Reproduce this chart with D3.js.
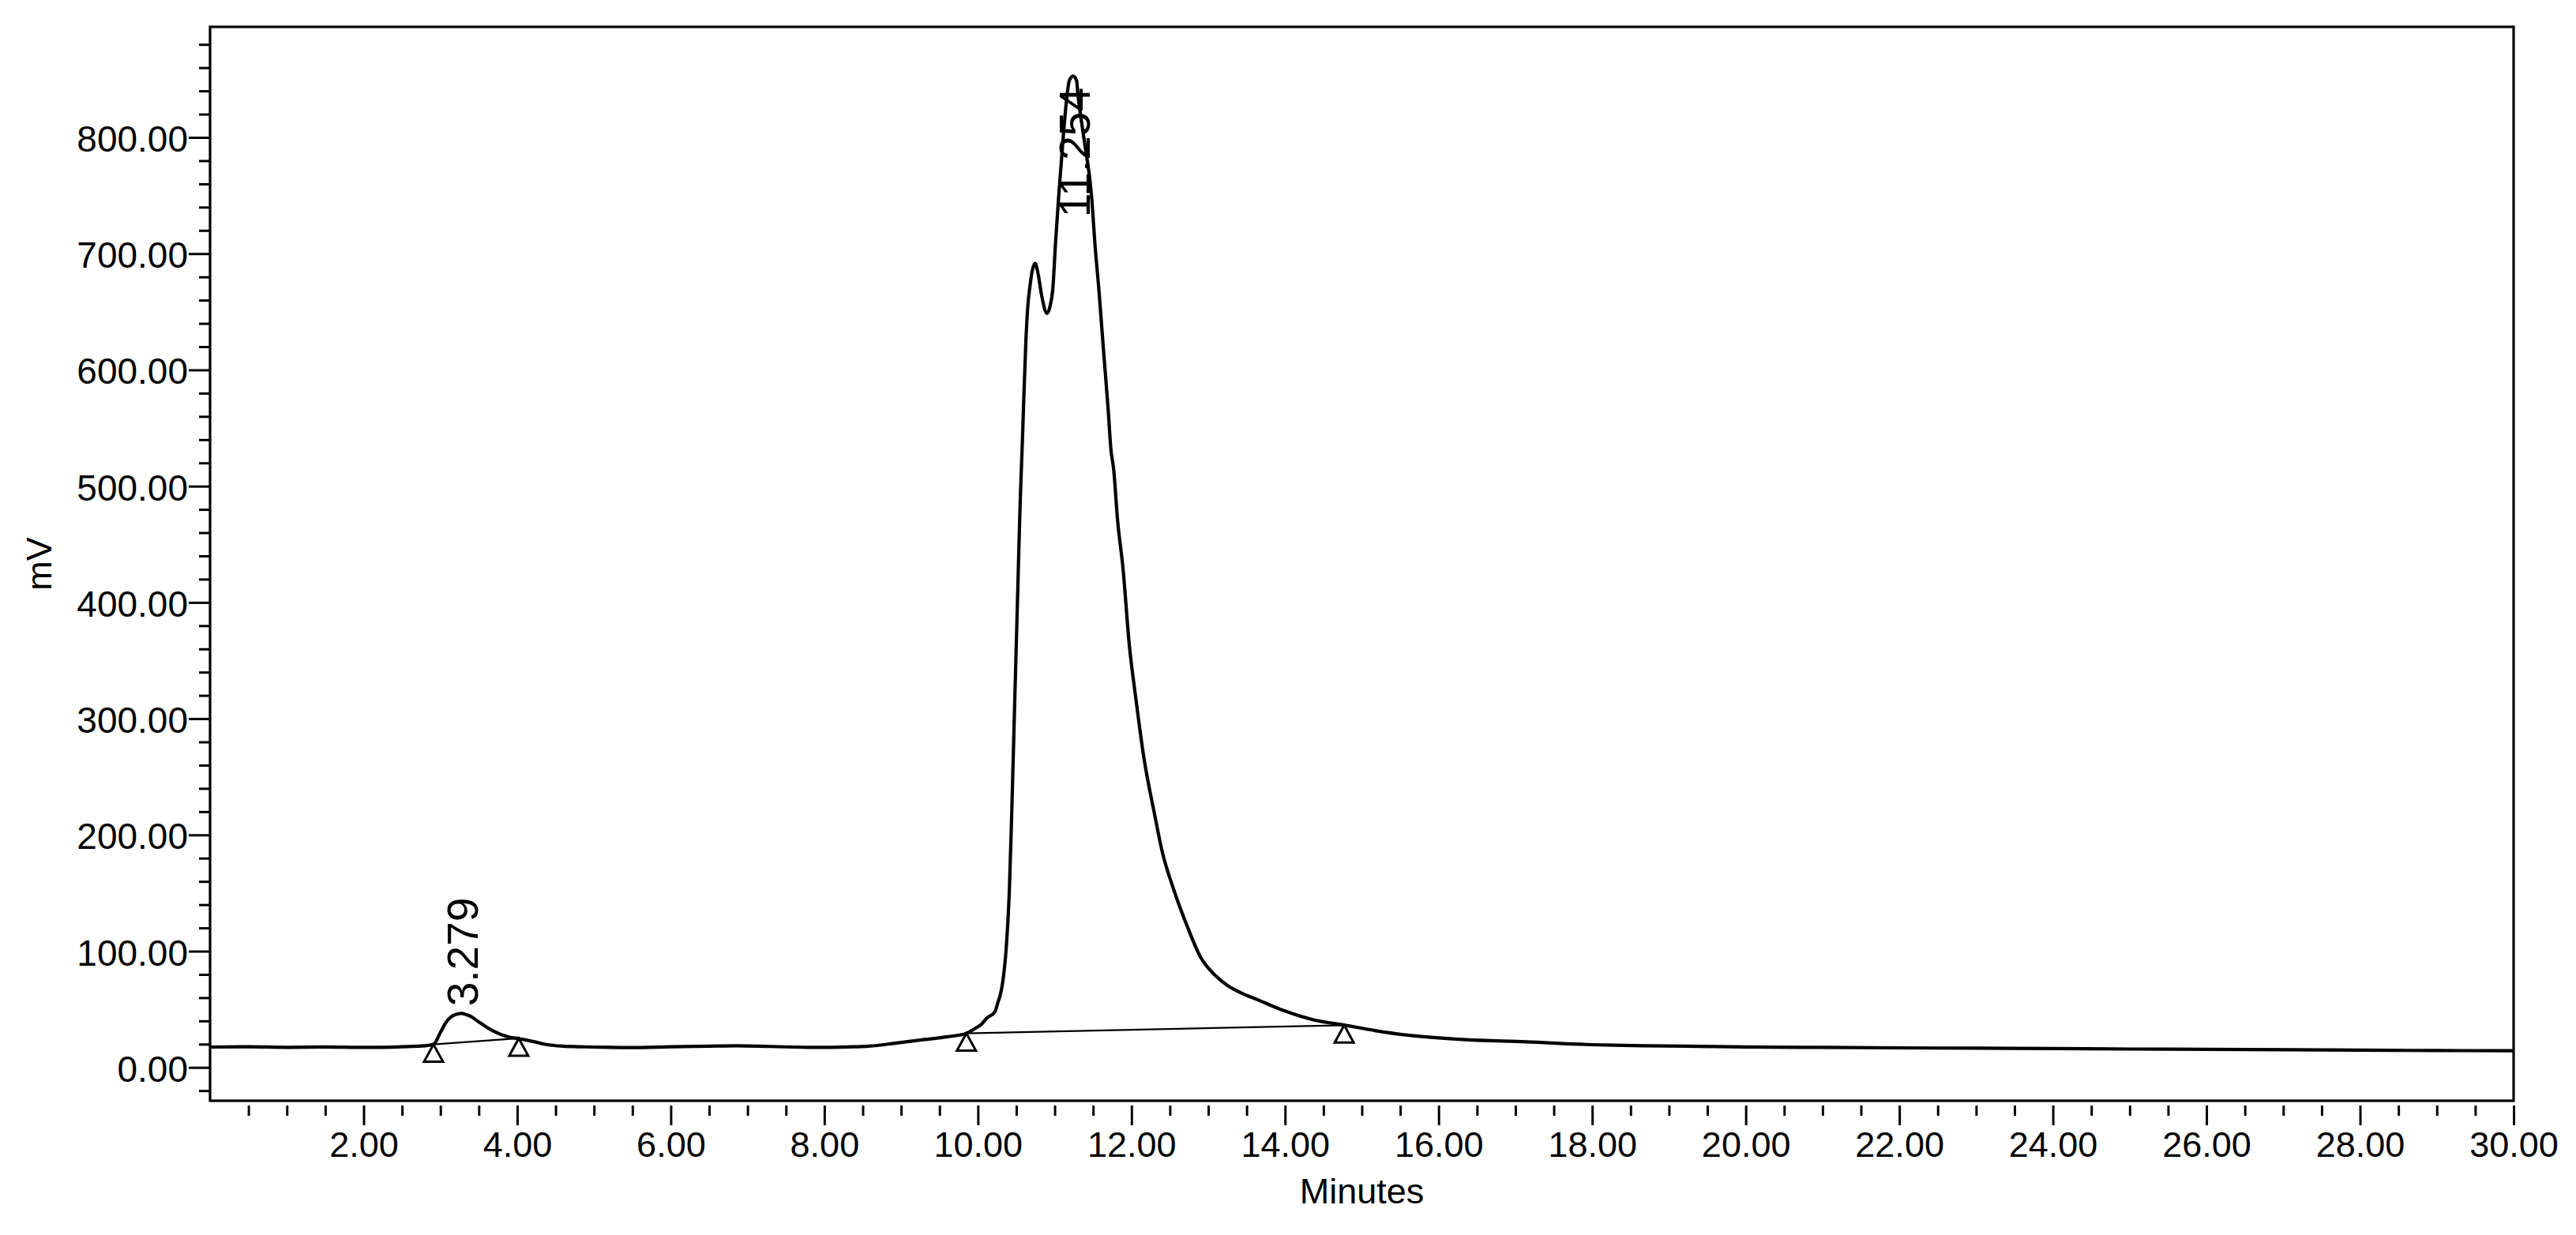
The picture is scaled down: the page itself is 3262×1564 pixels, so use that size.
<!DOCTYPE html>
<html>
<head>
<meta charset="utf-8">
<script src="https://cdn.jsdelivr.net/npm/d3@7"></script>
<style>
  html, body { margin: 0; padding: 0; background: #fff; }
  svg { display: block; }
  text { font-family: "Liberation Sans", Arial, Helvetica, sans-serif; fill: #000; }
</style>
</head>
<body>
<svg id="chart" width="3262" height="1564"></svg>
<script>
// ---------- data ----------
const timeMin = [
  0.00, 0.50, 1.00, 1.50, 2.00, 2.50, 2.80, 2.91, 3.00, 3.06, 3.14, 3.20, 3.27, 3.34, 3.40, 3.47,
  3.54, 3.62, 3.71, 3.80, 3.90, 4.02, 4.12, 4.24, 4.35, 4.46, 4.60, 4.80, 5.00, 5.50, 6.00, 6.50,
  6.86, 7.30, 7.89, 8.30, 8.58, 8.92, 9.26, 9.61, 9.85, 9.95, 10.05, 10.12, 10.22, 10.26, 10.29,
  10.32, 10.37, 10.41, 10.44, 10.48, 10.52, 10.55, 10.58, 10.60, 10.625, 10.65, 10.674, 10.71,
  10.746, 10.78, 10.83, 10.90, 10.94, 10.975, 11.01, 11.05, 11.11, 11.165, 11.19, 11.24, 11.285,
  11.30, 11.38, 11.483, 11.524, 11.575, 11.635, 11.697, 11.732, 11.767, 11.82, 11.89, 11.97, 12.06,
  12.16, 12.30, 12.40, 12.55, 12.73, 12.90, 13.10, 13.25, 13.40, 13.65, 13.99, 14.38, 14.78, 15.17,
  15.57, 16.35, 17.14, 17.93, 18.71, 19.38, 20.00, 21.00, 22.00, 23.00, 24.00, 25.00, 26.00, 27.09,
  28.00, 29.00, 30.00
];
const signalMV = [
  17.5, 17.8, 17.3, 17.6, 17.2, 17.8, 18.6, 19.8, 30.0, 37.4, 43.5, 45.5, 46.5, 45.3, 43.7, 40.5,
  37.4, 33.8, 30.6, 28.0, 26.0, 24.8, 23.5, 21.8, 20.0, 19.0, 18.2, 17.8, 17.5, 17.0, 17.8, 18.3,
  18.6, 18.0, 17.2, 17.6, 18.3, 20.8, 23.6, 26.4, 29.3, 33.0, 37.4, 42.7, 47.6, 55.8, 62.0,
  72.0, 104.0, 153.0, 218.0, 315.7, 413.0, 485.0, 540.0, 580.0, 625.0, 655.0, 670.0, 686.0,
  691.6, 684.0, 664.0, 648.6, 655.0, 669.4, 708.4, 747.4, 799.5, 838.5, 848.9, 852.7, 848.9,
  838.5, 799.5, 747.4, 708.4, 669.4, 617.5, 565.5, 531.7, 515.0, 470.0, 429.0, 364.6, 315.7,
  267.0, 218.0, 185.7, 153.0, 120.7, 94.8, 78.6, 70.5, 65.0, 58.0, 48.7, 40.8, 36.3, 31.7,
  27.9, 23.8, 22.0, 19.7, 18.6, 18.1, 17.6, 17.2, 16.8, 16.5, 16.2, 15.8, 15.6, 15.2,
  14.8, 14.5, 14.3
];
// integration baseline segments: [start, end] times and mV
const baselineStartMin = [2.91, 9.85];
const baselineStartMV  = [19.8, 29.3];
const baselineEndMin   = [4.02, 14.77];
const baselineEndMV    = [25.0, 36.3];
// peak labels
const peakTimes  = [3.279, 11.254];
const peakLabels = ["3.279", "11.254"];
// axis ticks
const xMajorTicks = [2, 4, 6, 8, 10, 12, 14, 16, 18, 20, 22, 24, 26, 28, 30];
const yMajorTicks = [0, 100, 200, 300, 400, 500, 600, 700, 800];
const xLabel = "Minutes";
const yLabel = "mV";

// ---------- layout ----------
const W = 3262, H = 1564;
const plot = { left: 266, right: 3183, top: 34, bottom: 1394 };

const svg = d3.select("#chart");
svg.append("rect").attr("width", W).attr("height", H).attr("fill", "#fff");

const x = d3.scaleLinear().domain([0, 30]).range([plot.left, plot.right]);
const y = d3.scaleLinear().domain([-28.7, 895.1]).range([plot.bottom, plot.top]);

// ---------- axes ----------
const xMinor = d3.range(0.5, 30.01, 0.5).filter(v => Math.abs(v / 2 - Math.round(v / 2)) > 1e-6);
const yMinor = d3.range(-20, 881, 20).filter(v => v % 100 !== 0);

const tickStyle = g => {
  g.select(".domain").remove();
  g.selectAll(".tick line").attr("stroke", "#000").attr("stroke-width", 3);
};
const FONT = '"Liberation Sans", Arial, sans-serif';

// x minor
svg.append("g")
  .attr("transform", `translate(0,${plot.bottom + 6})`)
  .call(d3.axisBottom(x).tickValues(xMinor).tickSize(13).tickFormat(""))
  .call(tickStyle);
// x major
const gx = svg.append("g")
  .attr("transform", `translate(0,${plot.bottom + 6})`)
  .call(d3.axisBottom(x).tickValues(xMajorTicks).tickSize(25).tickPadding(8).tickFormat(d3.format(".2f")))
  .call(tickStyle);
gx.selectAll(".tick text").attr("font-size", 45).attr("font-family", FONT).attr("fill", "#000");

// y minor
svg.append("g")
  .attr("transform", `translate(${plot.left},0)`)
  .call(d3.axisLeft(y).tickValues(yMinor).tickSize(14).tickFormat(""))
  .call(tickStyle);
// y major
const gy = svg.append("g")
  .attr("transform", `translate(${plot.left},0)`)
  .call(d3.axisLeft(y).tickValues(yMajorTicks).tickSize(27).tickPadding(1).tickFormat(d3.format(".2f")))
  .call(tickStyle);
gy.selectAll(".tick text").attr("font-size", 46).attr("dy", "0.38em")
  .attr("font-family", FONT).attr("fill", "#000");

// frame
svg.append("rect")
  .attr("x", plot.left).attr("y", plot.top)
  .attr("width", plot.right - plot.left).attr("height", plot.bottom - plot.top)
  .attr("fill", "none").attr("stroke", "#000").attr("stroke-width", 3.2);

// axis titles
svg.append("text")
  .attr("x", (plot.left + plot.right) / 2).attr("y", 1524)
  .attr("text-anchor", "middle").attr("font-size", 45).text(xLabel);
svg.append("text")
  .attr("transform", `translate(65,${(plot.top + plot.bottom) / 2}) rotate(-90)`)
  .attr("text-anchor", "middle").attr("font-size", 45).text(yLabel);

// ---------- trace ----------
const pts = timeMin.map((t, i) => [t, signalMV[i]]);
const line = d3.line().x(d => x(d[0])).y(d => y(d[1])).curve(d3.curveMonotoneX);
svg.append("path")
  .attr("d", line(pts))
  .attr("fill", "none").attr("stroke", "#000").attr("stroke-width", 4.2)
  .attr("stroke-linejoin", "round");

// ---------- integration baselines + markers ----------
baselineStartMin.forEach((t0, i) => {
  svg.append("line")
    .attr("x1", x(t0)).attr("y1", y(baselineStartMV[i]))
    .attr("x2", x(baselineEndMin[i])).attr("y2", y(baselineEndMV[i]))
    .attr("stroke", "#000").attr("stroke-width", 2.2);
});
const markers = [];
baselineStartMin.forEach((t, i) => {
  markers.push([t, baselineStartMV[i]]);
  markers.push([baselineEndMin[i], baselineEndMV[i]]);
});
const triW = 24, triH = 22;
svg.append("g").selectAll("path").data(markers).join("path")
  .attr("d", d => {
    const cx = x(d[0]), cy = y(d[1]);
    return `M${cx},${cy} L${cx + triW / 2},${cy + triH} L${cx - triW / 2},${cy + triH} Z`;
  })
  .attr("fill", "#fff").attr("stroke", "#000").attr("stroke-width", 3)
  .attr("stroke-linejoin", "miter");

// ---------- peak labels ----------
peakTimes.forEach((pt, i) => {
  const near = pts.filter(p => Math.abs(p[0] - pt) < 0.15);
  const apex = d3.max(near, p => p[1]);
  const t = svg.append("text")
    .attr("font-size", 55).attr("text-anchor", "start").attr("dy", "0.36em")
    .text(peakLabels[i]);
  const L = t.node().getComputedTextLength();
  const start = Math.max(y(apex) - 9, plot.top + 77 + L);
  t.attr("transform", `translate(${x(pt)},${start}) rotate(-90)`);
});
</script>
</body>
</html>
